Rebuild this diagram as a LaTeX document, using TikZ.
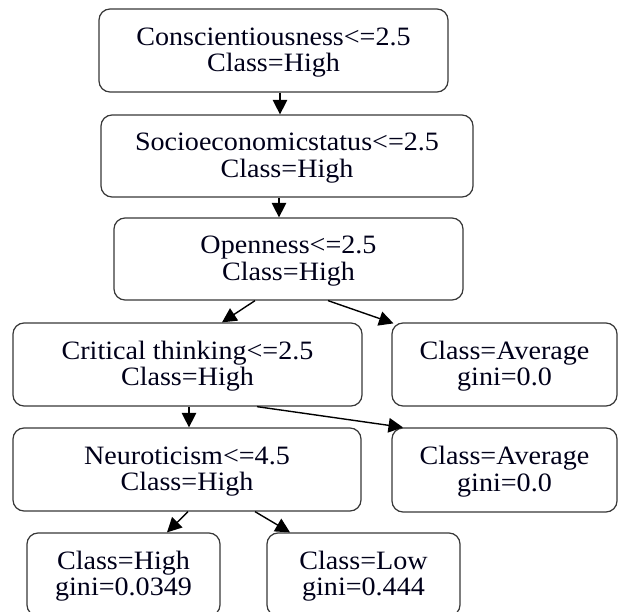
\documentclass[tikz,border=0pt]{standalone}
\usepackage{fontspec}
\setmainfont[FakeStretch=1.06]{Liberation Serif}
\usetikzlibrary{arrows.meta}

% extra height on the first line so the two text lines sit a little lower
\newcommand{\nodestrut}{\rule{0pt}{22pt}}

\tikzset{
  treebox/.style={draw=black!78, line width=1.25pt, rounded corners=11pt,
    align=center, inner sep=0pt, font=\fontsize{26.5}{26.5}\selectfont,
    text=black!90!blue},
  edge/.style={draw=black, line width=1.4pt,
    -{Triangle[length=14.5pt,width=14.5pt]}}
}

\begin{document}
\begin{tikzpicture}[x=1pt, y=-1pt]
  \useasboundingbox (0,0) rectangle (619,611);
  \clip (0,0) rectangle (619,611);

  % split nodes
  \node[treebox, minimum width=349pt, minimum height=83pt] (b1) at (273.5,50.5)
    {\nodestrut Conscientiousness<=2.5\\Class=High};
  \node[treebox, minimum width=372pt, minimum height=82pt] (b2) at (287,156)
    {\nodestrut Socioeconomicstatus<=2.5\\Class=High};
  \node[treebox, minimum width=349pt, minimum height=82pt] (b3) at (288.5,259)
    {\nodestrut Openness<=2.5\\Class=High};
  \node[treebox, minimum width=349pt, minimum height=83pt] (b4) at (187.5,364.5)
    {\nodestrut Critical thinking<=2.5\\Class=High};
  \node[treebox, minimum width=348pt, minimum height=83pt] (b5) at (187,469.5)
    {\nodestrut Neuroticism<=4.5\\Class=High};

  % leaves
  \node[treebox, minimum width=225pt, minimum height=83pt] (l1) at (504.5,364.5)
    {\nodestrut Class=Average\\gini=0.0};
  \node[treebox, minimum width=225pt, minimum height=84pt] (l2) at (504.5,470)
    {\nodestrut Class=Average\\gini=0.0};
  \node[treebox, minimum width=193pt, minimum height=83pt] (l3) at (123.5,574.5)
    {\nodestrut Class=High\\gini=0.0349};
  \node[treebox, minimum width=193pt, minimum height=83pt] (l4) at (363.5,574.5)
    {\nodestrut Class=Low\\gini=0.444};

  % connectors
  \draw[edge] ([xshift=6.5pt]b1.south) -- ([xshift=-7pt]b2.north);
  \draw[edge] ([xshift=-8pt]b2.south) -- ([xshift=-9.5pt]b3.north);
  \draw[edge] ([xshift=-33.5pt]b3.south) -- ([xshift=34.5pt]b4.north);
  \draw[edge] ([xshift=39.5pt]b3.south) -- ([xshift=-111pt,yshift=-1pt]l1.north);
  \draw[edge] ([xshift=1.5pt]b4.south) -- ([xshift=2pt]b5.north);
  \draw[edge] ([xshift=69.5pt]b4.south) -- ([xshift=-101.5pt]l2.north);
  \draw[edge] ([xshift=1pt]b5.south) -- ([xshift=43.5pt]l3.north);
  \draw[edge] ([xshift=68pt]b5.south) -- ([xshift=-73.5pt]l4.north);
\end{tikzpicture}
\end{document}
